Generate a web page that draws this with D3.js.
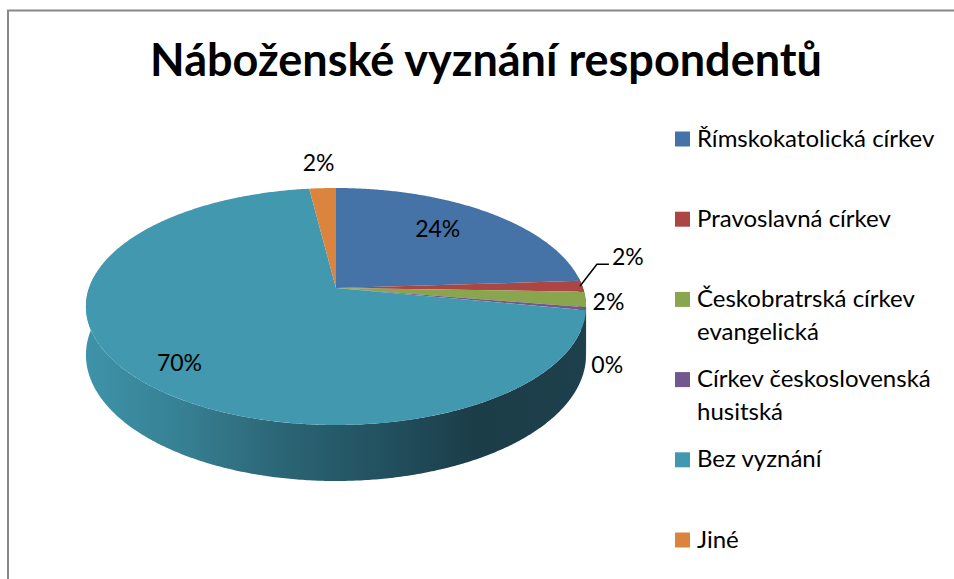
<!DOCTYPE html>
<html>
<head>
<meta charset="utf-8">
<script src="https://cdn.jsdelivr.net/npm/d3@7"></script>
<style>
  html, body { margin: 0; padding: 0; background: #fff; }
  svg { display: block; font-family: Lato, 'Open Sans', sans-serif; }
</style>
</head>
<body>
<div id="chart"></div>
<script>
const categories = ['Římskokatolická církev', 'Pravoslavná církev', 'Českobratrská církev evangelická',
  'Církev československá husitská', 'Bez vyznání', 'Jiné'];
const shares = [24.0, 1.5, 2.1, 0.4, 70.0, 2.0];
const labelTexts = ['24%', '2%', '2%', '0%', '70%', '2%'];
const legendLines = [['Římskokatolická církev'], ['Pravoslavná církev'], ['Českobratrská církev', 'evangelická'],
  ['Církev československá', 'husitská'], ['Bez vyznání'], ['Jiné']];
const colors = ['#4572a7', '#aa4643', '#89a54e', '#71588f', '#4198af', '#db843d'];

const width = 954, height = 579;

// pie geometry (simple perspective projection of a tilted disc)
const cx = 336, cy = 288, A = 247, B = 115.6, k = 0.156, H = 47.3;
const proj = (theta, r, depth = 0) => {
  const u = r * Math.sin(theta), v = -r * Math.cos(theta);
  const s = 1 / (1 - k * v);
  return [cx + A * u * s, cy + B * v * s + H * s * depth];
};

const svg = d3.select('#chart')
  .append('svg')
  .attr('width', width)
  .attr('height', height);

svg.append('rect')
  .attr('x', 8).attr('y', 10.5)
  .attr('width', 1000).attr('height', 700)
  .attr('fill', 'none')
  .attr('stroke', '#888')
  .attr('stroke-width', 2);

svg.append('text')
  .attr('x', 486)
  .attr('y', 76)
  .attr('text-anchor', 'middle')
  .attr('font-size', 45)
  .attr('font-weight', 'bold')
  .attr('fill', '#000')
  .text('Náboženské vyznání respondentů');

const defs = svg.append('defs');
const grad = defs.append('linearGradient')
  .attr('id', 'side')
  .attr('gradientUnits', 'userSpaceOnUse')
  .attr('x1', 86).attr('x2', 586).attr('y1', 0).attr('y2', 0);
[[0, '#3e93a9'], [0.2, '#367f92'], [0.4, '#2b6474'], [0.6, '#22505e'], [0.78, '#1b3d48'], [1, '#1d404c']]
  .forEach(([o, c]) => grad.append('stop').attr('offset', o).attr('stop-color', c));

const arcs = d3.pie().sort(null).value((d) => d)(shares);
const line = d3.line();
const step = Math.PI / 360;

const arcPoints = (a0, a1, r, depth) => {
  const pts = [];
  const n = Math.max(2, Math.ceil((a1 - a0) / step));
  for (let i = 0; i <= n; i++) pts.push(proj(a0 + (a1 - a0) * i / n, r, depth));
  return pts;
};

// side walls (front part only), far ones first
const lo = Math.PI * 0.47, hi = Math.PI * 1.53;
const walls = arcs
  .map((d, i) => ({ i, a0: Math.max(d.startAngle, lo), a1: Math.min(d.endAngle, hi) }))
  .filter((w) => w.a1 > w.a0)
  .sort((a, b) => -Math.cos((a.a0 + a.a1) / 2) - -Math.cos((b.a0 + b.a1) / 2));

svg.append('g').selectAll('path')
  .data(walls)
  .join('path')
  .attr('d', (w) => line([...arcPoints(w.a0, w.a1, 1, 0), ...arcPoints(w.a0, w.a1, 1, 1).reverse()]) + 'Z')
  .attr('fill', (w) => (w.i === 4 ? 'url(#side)' : d3.color(colors[w.i]).darker(1.4)));

// top faces
svg.append('g').selectAll('path')
  .data(arcs)
  .join('path')
  .attr('d', (d) => line([[cx, cy], ...arcPoints(d.startAngle, d.endAngle, 1, 0)]) + 'Z')
  .attr('fill', (d, i) => colors[i]);

// data labels
const labelR = [0.68, 1.0, 1.09, 1.09, 0.8, 1.27];
const labelNudge = [[-5, -6], [0, 0], [0, 1], [-2, 54], [1, 6], [-1, -3]];
const labels = svg.append('g').attr('font-size', 23).attr('fill', '#000');

arcs.forEach((d, i) => {
  const mid = (d.startAngle + d.endAngle) / 2;
  if (i === 1) {
    const p0 = proj(mid, 0.99);
    const p1 = [p0[0] + 17, p0[1] - 22];
    const p2 = [p1[0] + 12, p1[1]];
    labels.append('path')
      .attr('d', line([p0, p1, p2]))
      .attr('fill', 'none')
      .attr('stroke', '#000')
      .attr('stroke-width', 1.5);
    labels.append('text')
      .attr('x', p2[0] + 3).attr('y', p1[1] - 7)
      .attr('dy', '0.35em')
      .text(labelTexts[i]);
    return;
  }
  const p = proj(mid, labelR[i]);
  labels.append('text')
    .attr('x', p[0] + labelNudge[i][0])
    .attr('y', p[1] + labelNudge[i][1])
    .attr('dy', '0.35em')
    .attr('text-anchor', 'middle')
    .text(labelTexts[i]);
});

// legend
const legendY = d3.scaleLinear().domain([0, categories.length - 1]).range([139, 540]);
const legend = svg.append('g').selectAll('g')
  .data(categories)
  .join('g')
  .attr('transform', (d, i) => `translate(675,${legendY(i)})`);

legend.append('rect')
  .attr('x', 0).attr('y', -7.5)
  .attr('width', 15).attr('height', 15)
  .attr('fill', (d, i) => colors[i]);

legend.append('text')
  .attr('x', 22)
  .attr('y', 7.5)
  .attr('font-size', 24)
  .attr('fill', '#000')
  .selectAll('tspan')
  .data((d, i) => legendLines[i])
  .join('tspan')
  .attr('x', 22)
  .attr('dy', (d, j) => (j === 0 ? 0 : 33))
  .text((d) => d);
</script>
</body>
</html>
